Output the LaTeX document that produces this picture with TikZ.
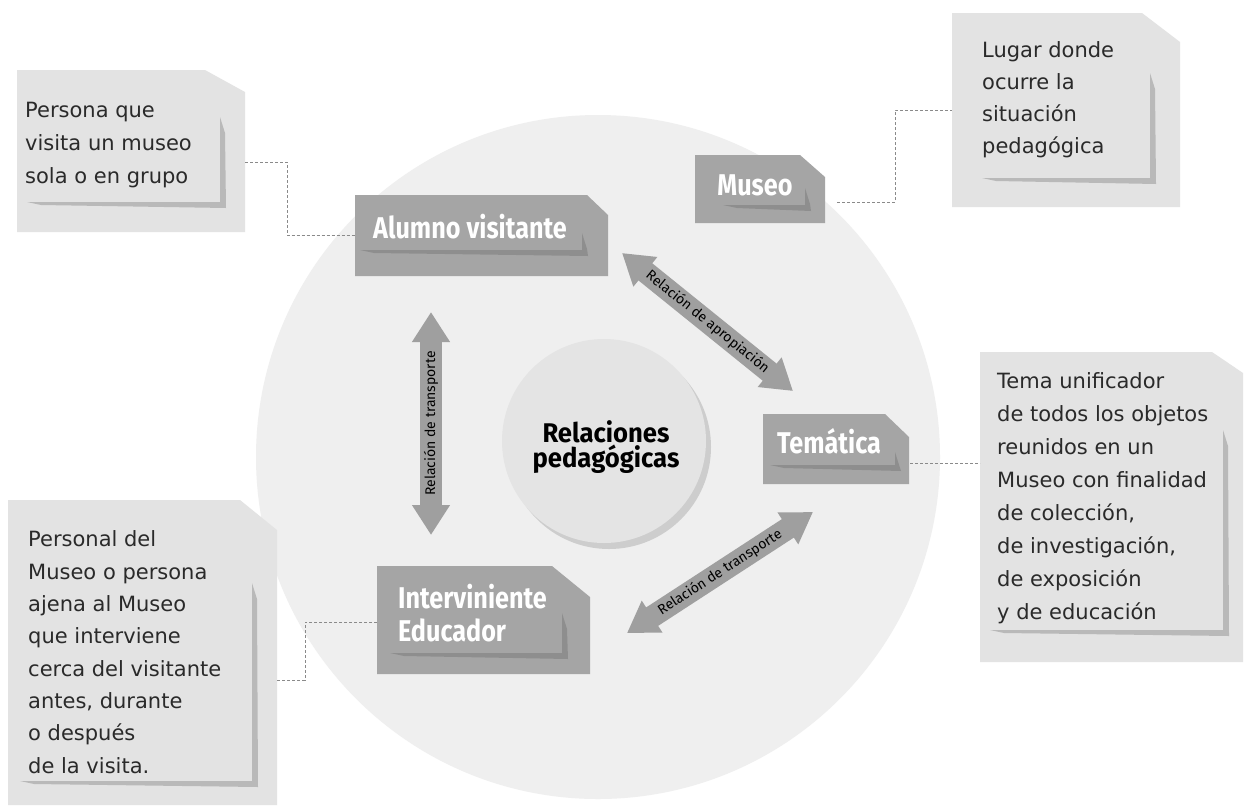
\documentclass[tikz,border=0pt]{standalone}
\usepackage{fontspec}
\usetikzlibrary{arrows.meta,calc}
\newfontfamily\descfont{DejaVu Sans}
\newfontfamily\catfont[FakeStretch=0.84]{Fira Sans}
\newfontfamily\centfont[FakeStretch=0.95]{Fira Sans}
\newfontfamily\arrfont{Fira Sans}
\definecolor{bgcircle}{HTML}{EFEFEF}
\definecolor{descfill}{HTML}{E3E3E3}
\definecolor{descshadow}{HTML}{B9B9B9}
\definecolor{catfill}{HTML}{A5A5A5}
\definecolor{catshadow}{HTML}{8E8E8E}
\definecolor{innerfill}{HTML}{E4E4E4}
\definecolor{innershadow}{HTML}{CDCDCD}
\definecolor{arrowfill}{HTML}{9F9F9F}
\definecolor{dashcol}{HTML}{8A8A8A}
\definecolor{desctextcol}{HTML}{2A2A2A}
% #1 node, #2 fill, #3 shadow, #4 cut dx, #5 cut dy, #6 d, #7 b, #8 h0, #9 l0
\newcommand{\papershape}[9]{%
 \fill[#2] (#1.south west) -- (#1.north west) -- ([xshift=-#4pt]#1.north east) -- ([yshift=-#5pt]#1.north east) -- (#1.south east) -- cycle;
 \fill[#3] ([xshift=-#6pt,yshift=-#8pt]#1.north east) -- ([xshift=-#6pt,yshift=#7pt]#1.south east) -- ([xshift=#9pt,yshift=#7pt]#1.south west) -- ([xshift=#9pt+14pt,yshift=#7pt-3pt]#1.south west) -- ([xshift=-#6pt+6pt,yshift=#7pt-6pt]#1.south east) -- ([xshift=-#6pt+5pt,yshift=-#8pt-16pt]#1.north east) -- cycle;
}
\tikzset{
 boxarea/.style={inner sep=0pt,outer sep=0pt,anchor=north west},
 desctext/.style={align=left,inner sep=0pt,text=desctextcol,anchor=base west,font=\descfont\fontsize{21}{#1}\selectfont},
 cattext/.style={inner sep=0pt,text=white,font=\catfont\bfseries\fontsize{30}{33}\selectfont},
 conn/.style={draw=dashcol,line width=1pt,dash pattern=on 3pt off 2pt},
 bigarrow/.style={draw=arrowfill,line width=22pt,>={Triangle[width=36pt,length=30pt]},<->},
 arrowlabel/.style={midway,sloped,inner sep=0pt,text=black,font=\arrfont\fontsize{14}{14}\selectfont}
}
\begin{document}
\begin{tikzpicture}[x=1pt,y=-1pt]
\fill[white] (0,0) rectangle (1244,807);
\useasboundingbox (0,0) rectangle (1244,807);
% big background circle
\node[circle,fill=bgcircle,minimum size=684pt,inner sep=0pt] (bg) at (598,457) {};
% inner circle with shadow
\fill[innershadow] (609,447) circle (102pt);
\node[circle,fill=innerfill,minimum size=204pt,inner sep=0pt] (centre) at (604,441) {};
% (multi-line nodes: base anchor = last line)
\node[align=center,inner sep=0pt,anchor=base,font=\centfont\bfseries\fontsize{27}{25}\selectfont] (centre-t) at (606,467) {Relaciones\\pedagógicas};

% box areas
\node[boxarea,minimum width=228pt,minimum height=162pt] (persona) at (17,70) {};
\node[boxarea,minimum width=228pt,minimum height=194pt] (lugar) at (952,13) {};
\node[boxarea,minimum width=263pt,minimum height=310pt] (tema) at (980,352) {};
\node[boxarea,minimum width=269pt,minimum height=305pt] (personal) at (8,500) {};
\node[boxarea,minimum width=130pt,minimum height=68pt] (museo) at (695,155) {};
\node[boxarea,minimum width=253pt,minimum height=81pt] (alumno) at (355,195) {};
\node[boxarea,minimum width=146pt,minimum height=70pt] (tematica) at (763,414) {};
\node[boxarea,minimum width=213pt,minimum height=108pt] (interv) at (377,566) {};

\papershape{persona}{descfill}{descshadow}{40}{22}{25}{30}{47}{10}
\papershape{lugar}{descfill}{descshadow}{38}{29}{30}{29}{60}{30}
\papershape{tema}{descfill}{descshadow}{31}{21}{20}{32}{78}{10}
\papershape{personal}{descfill}{descshadow}{37}{30}{25}{24}{83}{12}
\papershape{museo}{catfill}{catshadow}{25}{22}{20}{18}{33}{28}
\papershape{alumno}{catfill}{catshadow}{21}{20}{26}{26}{38}{5}
\papershape{tematica}{catfill}{catshadow}{24}{23}{14}{19}{38}{7}
\papershape{interv}{catfill}{catshadow}{38}{31}{28}{21}{47}{13}

% description texts (positioned at the baseline of their last line)
\node[desctext=33] (persona-t) at (25,183) {Persona que\\visita un museo\\sola o en grupo};
\node[desctext=32] (lugar-t) at (982,153) {Lugar donde\\ocurre la\\situación\\pedagógica};
\node[desctext=33] (tema-t) at (997,619) {Tema unificador\\de todos los objetos\\reunidos en un\\Museo con finalidad\\de colección,\\de investigación,\\de exposición\\y de educación};
\node[desctext=32.3] (personal-t) at (28,773) {Personal del\\Museo o persona\\ajena al Museo\\que interviene\\cerca del visitante\\antes, durante\\o después\\de la visita.};

% category texts
\node[cattext,anchor=base] (alumno-t) at (470,238) {Alumno visitante};
\node[cattext,anchor=base] (museo-t) at (755,195) {Museo};
\node[cattext,anchor=base] (tematica-t) at (829,453) {Temática};
\node[cattext,anchor=base west,align=left] (interv-t) at (398,641) {Interviniente\\Educador};

% relation arrows
\coordinate (vT) at (431,312);
\coordinate (vB) at (431,535);
\coordinate (aT) at (622,253);
\coordinate (aB) at (793,391);
\coordinate (tL) at (627,633);
\coordinate (tR) at (813,512);
\draw[bigarrow] (vB) -- node[arrowlabel] (lab-v) {Relación de transporte} (vT);
\draw[bigarrow] (aT) -- node[arrowlabel] (lab-a) {Relación de apropiación} (aB);
\draw[bigarrow] (tL) -- node[arrowlabel] (lab-t) {Relación de transporte} (tR);

% dashed connectors
\draw[conn] (persona.east |- 0,162) -- (287,162) -- (287,235.5) -- (alumno.west);
\draw[conn] ($(museo.east)+(12,13)$) -- (895,202) -- (895,110) -- (lugar.west);
\draw[conn] ($(tematica.east)+(1,14)$) -- (tema.west |- 0,463);
\draw[conn] (interv.west |- 0,622) -- (305,622) -- (305,680) -- (personal.east |- 0,680);
\end{tikzpicture}
\end{document}
